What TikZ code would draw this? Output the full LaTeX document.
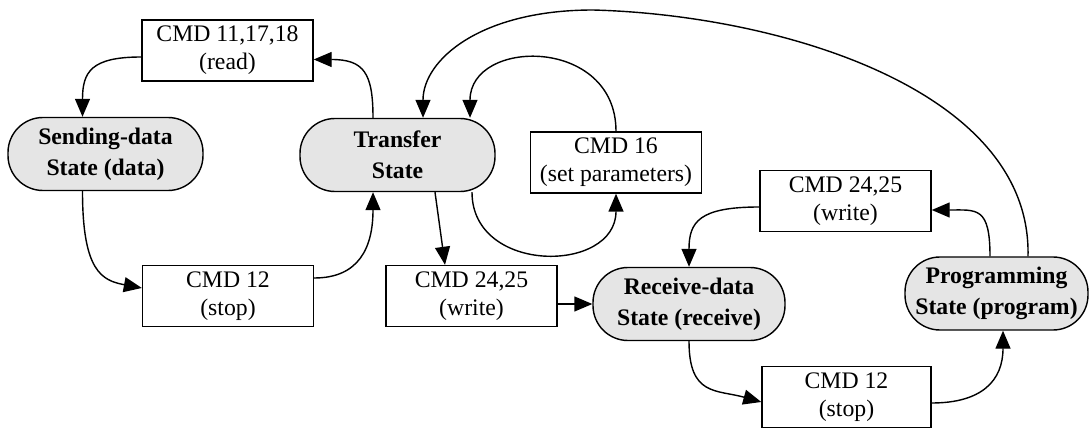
\documentclass[tikz,border=0pt]{standalone}
\usepackage{fontspec}
\setmainfont{Liberation Serif}
\usetikzlibrary{arrows.meta}

\begin{document}
\begin{tikzpicture}[>={Triangle[length=3.6mm,width=3mm]},
        cmdbox/.style={draw, thick, fill=white, minimum width=3.42cm, minimum height=1.22cm, align=center, font=\fontsize{13.5}{16}\selectfont},
        statebox/.style={draw, thick, fill=black!10, rounded corners=0.7cm, minimum width=3.9cm, minimum height=1.46cm, align=center, font=\fontsize{13.5}{17.5}\selectfont\bfseries}]
        \useasboundingbox (0,0) rectangle (21.82,8.6);

        \node[cmdbox] (read) at (4.55,7.59) {CMD 11,17,18\\(read)};
        \node[statebox] (sending) at (2.11,5.52) {Sending-data\\State (data)};
        \node[statebox] (transfer) at (7.95,5.50) {Transfer\\State};
        \node[cmdbox] (cmd16) at (12.32,5.35) {CMD 16\\(set parameters)};
        \node[cmdbox] (stopleft) at (4.56,2.68) {CMD 12\\(stop)};
        \node[cmdbox] (writelow) at (9.43,2.68) {CMD 24,25\\(write)};
        \node[statebox, minimum width=3.84cm] (receive) at (13.78,2.52) {Receive-data\\State (receive)};
        \node[cmdbox] (writeup) at (16.91,4.58) {CMD 24,25\\(write)};
        \node[cmdbox, minimum width=3.38cm] (stopright) at (16.93,0.66) {CMD 12\\(stop)};
        \node[statebox, minimum width=3.66cm] (prog) at (19.93,2.73) {Programming\\State (program)};

        \draw[thick, ->] ([yshift=-0.13cm]read.west) .. controls +(-1.0,0) and +(0,0.9) .. ([xshift=-0.46cm]sending.north);
        \draw[thick, ->] ([xshift=-0.49cm]transfer.north) .. controls +(0,0.9) and +(1.0,0) .. ([yshift=-0.18cm]read.east);
        \draw[thick, ->] ([xshift=-0.46cm]sending.south) .. controls +(0,-1.6) and +(-0.8,0.15) .. ([yshift=0.16cm]stopleft.west);
        \draw[thick, ->] ([yshift=0.36cm]stopleft.east) .. controls +(0.9,0) and +(0,-1.1) .. ([xshift=-0.49cm]transfer.south);
        \draw[thick, ->] ([xshift=0.75cm]transfer.south) -- ([xshift=-0.53cm]writelow.north);

        \draw[thick, ->] ([xshift=1.49cm]transfer.south) .. controls +(0,-1.65) and +(0,-1.6) .. (cmd16.south);
        \draw[thick, ->] (cmd16.north) .. controls +(0,1.9) and +(0,1.6) .. ([xshift=1.45cm]transfer.north);

        \draw[thick, ->] (writelow.east |- receive.west) -- (receive.west);
        \draw[thick, ->] (receive.south) .. controls +(0,-1.1) and +(-0.9,0.25) .. ([yshift=-0.1cm]stopright.west);
        \draw[thick, ->] ([yshift=-0.12cm]stopright.east) .. controls +(1.0,0) and +(0,-1.0) .. ([xshift=0.13cm]prog.south);
        \draw[thick, ->] ([xshift=-0.13cm]prog.north) .. controls +(0,1.0) and +(0.9,0) .. ([yshift=-0.18cm]writeup.east);
        \draw[thick, ->] ([yshift=-0.12cm]writeup.west) .. controls +(-1.2,0) and +(0,0.9) .. (receive.north);

        \draw[thick, ->] ([xshift=0.63cm]prog.north) .. controls (20.64,6.8) and (15.6,8.3) .. (11.86,8.4)
            .. controls (9.6,8.4) and (8.46,7.4) .. ([xshift=0.51cm]transfer.north);
    \end{tikzpicture}
\end{document}
